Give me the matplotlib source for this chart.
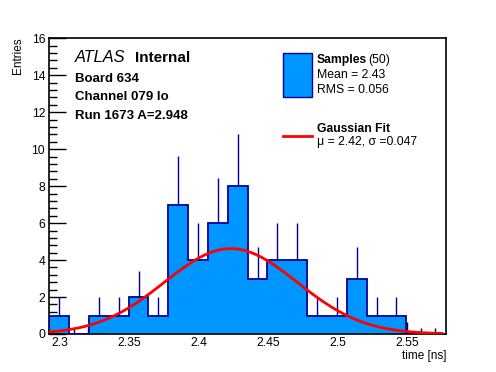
import numpy as np
import matplotlib
matplotlib.use("Agg")
import matplotlib.pyplot as plt
from matplotlib.patches import Rectangle
from matplotlib.lines import Line2D
from matplotlib.ticker import FixedLocator, MultipleLocator, FixedFormatter

plt.rcParams['font.family'] = ['Liberation Sans', 'DejaVu Sans']

# histogram: 20 bins between x_min and x_max
x_min, x_max = 2.2923, 2.578
counts = [1, 0, 1, 1, 2, 1, 7, 4, 6, 8, 3, 4, 4, 1, 1, 3, 1, 1, 0, 0]

# gaussian fit parameters (as drawn)
fit_amp = 4.62
fit_mu = 2.423
fit_sigma = 0.0478

xtick_vals = [2.3, 2.35, 2.4, 2.45, 2.5, 2.55]
xtick_labels = ['2.3', '2.35', '2.4', '2.45', '2.5', '2.55']
ytick_vals = [0, 2, 4, 6, 8, 10, 12, 14, 16]

fill_col = '#0096ff'
edge_col = '#000099'

W, H = 496, 372
fig = plt.figure(figsize=(W / 100, H / 100), dpi=100)
ax = fig.add_axes([49.3 / W, 1 - 334 / H, (446 - 49.3) / W, (334 - 38.3) / H])

counts = np.array(counts, dtype=float)
edges = np.linspace(x_min, x_max, len(counts) + 1)
centers = 0.5 * (edges[:-1] + edges[1:])

# error bars (under the fill, so only the upper half shows)
err = np.sqrt(counts)
nz = counts > 0
ax.vlines(centers[nz], (counts - err)[nz], (counts + err)[nz], color=edge_col, lw=1.0, zorder=1)

ax.stairs(counts, edges, fill=True, color=fill_col, zorder=2)
ax.stairs(counts, edges, fill=False, color=edge_col, lw=1.3, zorder=3)

xf = np.linspace(x_min, 2.575, 100)
yf = fit_amp * np.exp(-0.5 * ((xf - fit_mu) / fit_sigma) ** 2)
ax.plot(xf, yf, color='#ff0000', lw=2.0, zorder=4)

ax.set_xlim(x_min, x_max)
ax.set_ylim(0, 16)

ax.xaxis.set_major_locator(FixedLocator(xtick_vals))
ax.xaxis.set_major_formatter(FixedFormatter(xtick_labels))
ax.xaxis.set_minor_locator(MultipleLocator(0.01))
ax.yaxis.set_major_locator(FixedLocator(ytick_vals))
ax.yaxis.set_minor_locator(MultipleLocator(0.4))

ax.tick_params(which='both', direction='in', labelsize=8.7, width=1, color='black')
ax.tick_params(axis='x', which='major', length=9, pad=2.5)
ax.tick_params(axis='x', which='minor', length=4.5)
ax.tick_params(axis='y', which='major', length=12, pad=3)
ax.tick_params(axis='y', which='minor', length=6)
for s in ax.spines.values():
    s.set_linewidth(1.2)

fig.text(446 / W, 1 - 356 / H, 'time [ns]', ha='right', va='center', fontsize=8.5)
fig.text(18 / W, 1 - 37.5 / H, 'Entries', ha='center', va='top', rotation=90, fontsize=8.5)

# ATLAS label block
fig.text(75 / W, 1 - 62 / H, 'ATLAS', style='italic', fontsize=11.8, va='baseline')
fig.text(135 / W, 1 - 62 / H, 'Internal', weight='bold', fontsize=11, va='baseline')
for i, t in enumerate(['Board 634', 'Channel 079 lo', 'Run 1673 A=2.948']):
    fig.text(75 / W, 1 - (82 + 18.5 * i) / H, t, weight='bold', fontsize=9.5, va='baseline')

# legend
fig.patches.append(Rectangle((283 / W, 1 - 97 / H), 29 / W, 44 / H, transform=fig.transFigure,
                             facecolor=fill_col, edgecolor=edge_col, lw=1.0))
fig.lines.append(Line2D([283 / W, 312 / W], [1 - 136 / H, 1 - 136 / H], transform=fig.transFigure,
                        color='#ff0000', lw=2.0))
fig.text(317 / W, 1 - 63.5 / H, 'Samples', weight='bold', fontsize=8.7, va='baseline')
fig.text(368 / W, 1 - 63.5 / H, '(50)', fontsize=8.7, va='baseline')
fig.text(317 / W, 1 - 78.3 / H, 'Mean = 2.43', fontsize=8.8, va='baseline')
fig.text(317 / W, 1 - 92.7 / H, 'RMS = 0.056', fontsize=8.8, va='baseline')
fig.text(317 / W, 1 - 132.5 / H, 'Gaussian Fit', weight='bold', fontsize=8.7, va='baseline')
fig.text(317 / W, 1 - 145 / H, 'μ = 2.42, σ =0.047', fontsize=8.8, va='baseline')

fig.savefig('out.png', dpi=100)
